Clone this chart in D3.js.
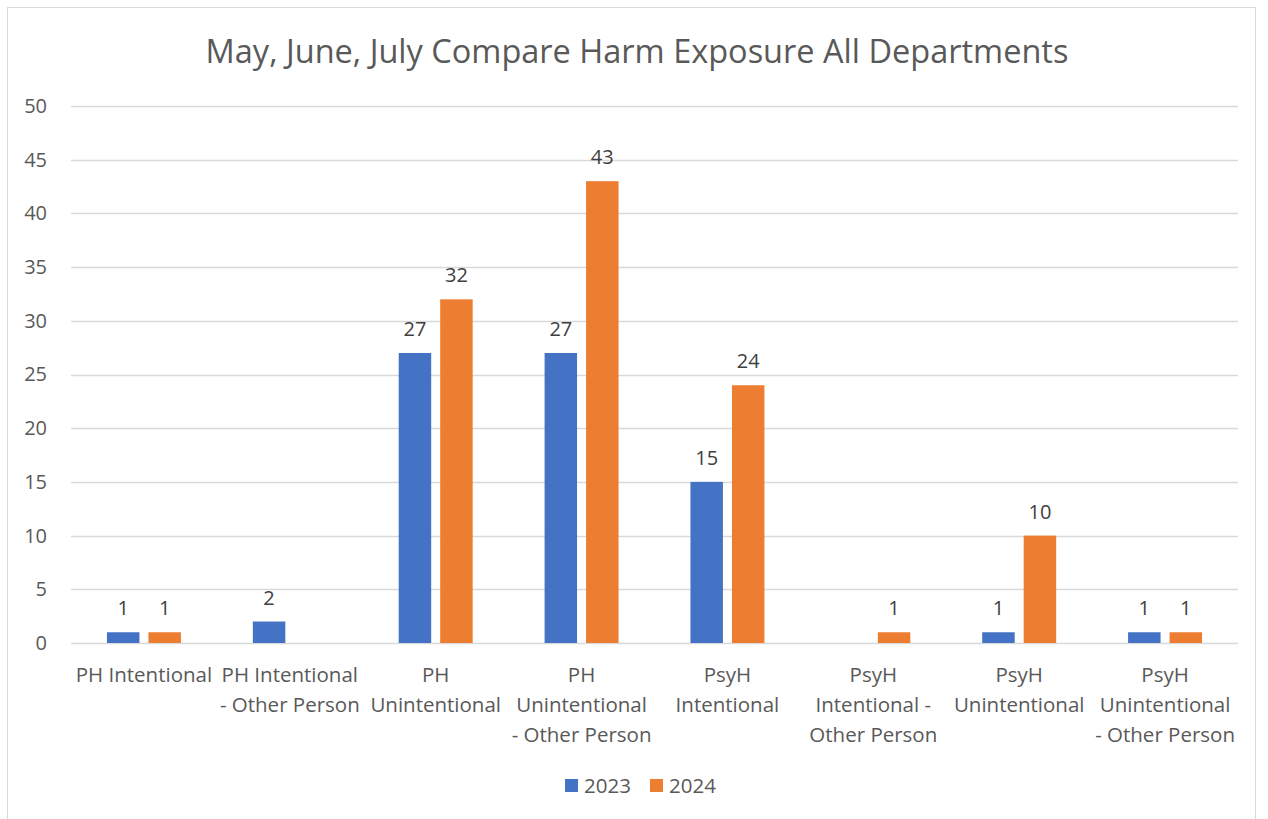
<!DOCTYPE html>
<html>
<head>
<meta charset="utf-8">
<script src="https://cdn.jsdelivr.net/npm/d3@7"></script>
<style>
  body { margin: 0; background: #fff; }
  text { font-family: "Open Sans", "Noto Sans", sans-serif; }
</style>
</head>
<body>
<div class="chart"></div>
<script>
// data
const categories = [
  "PH Intentional",
  "PH Intentional - Other Person",
  "PH Unintentional",
  "PH Unintentional - Other Person",
  "PsyH Intentional",
  "PsyH Intentional - Other Person",
  "PsyH Unintentional",
  "PsyH Unintentional - Other Person"
];
// how the axis labels wrap in the picture
const categoryLines = [
  ["PH Intentional"],
  ["PH Intentional", "- Other Person"],
  ["PH", "Unintentional"],
  ["PH", "Unintentional", "- Other Person"],
  ["PsyH", "Intentional"],
  ["PsyH", "Intentional -", "Other Person"],
  ["PsyH", "Unintentional"],
  ["PsyH", "Unintentional", "- Other Person"]
];
const seriesNames = ["2023", "2024"];
const values2023 = [1, 2, 27, 27, 15, null, 1, 1];
const values2024 = [1, null, 32, 43, 24, 1, 10, 1];
const yTicks = [0, 5, 10, 15, 20, 25, 30, 35, 40, 45, 50];
const colors = ["#4472C4", "#ED7D31"];
const title = "May, June, July Compare Harm Exposure All Departments";

const svgWidth = 1268;
const svgHeight = 819;
const margin = { top: 106, right: 30, bottom: 176, left: 71 };
const width = 1238 - margin.left;
const height = 643 - margin.top;

const svg = d3.select(".chart")
  .append("svg")
  .attr("width", svgWidth)
  .attr("height", svgHeight);

// chart frame
svg.append("rect")
  .attr("x", 7.5)
  .attr("y", 7.5)
  .attr("width", 1248)
  .attr("height", 830)
  .attr("fill", "#fff")
  .attr("stroke", "#d9d9d9")
  .attr("stroke-width", 1);

svg.append("text")
  .attr("x", 637)
  .attr("y", 63)
  .attr("text-anchor", "middle")
  .attr("font-size", "32.5px")
  .attr("fill", "#595959")
  .text(title);

const chartGroup = svg.append("g")
  .attr("transform", `translate(${margin.left}, ${margin.top})`);

const x0 = d3.scaleBand()
  .domain(categories)
  .range([0, width])
  .paddingInner(0.493)
  .paddingOuter(0.2465);

const x1 = d3.scaleBand()
  .domain(seriesNames)
  .range([0, x0.bandwidth()])
  .paddingInner(0.217);

const y = d3.scaleLinear()
  .domain([0, 50])
  .range([height, 0]);

// gridlines
chartGroup.append("g")
  .selectAll("line")
  .data(yTicks)
  .enter()
  .append("line")
  .attr("x1", 0)
  .attr("x2", width)
  .attr("y1", d => Math.round(y(d)) + 0.5)
  .attr("y2", d => Math.round(y(d)) + 0.5)
  .attr("stroke", "#d9d9d9")
  .attr("stroke-width", 1.3);

// y axis labels
const leftAxis = d3.axisLeft(y).tickValues(yTicks).tickSize(0).tickPadding(24);
chartGroup.append("g")
  .call(leftAxis)
  .call(g => g.select(".domain").remove())
  .selectAll("text")
  .attr("font-size", "20px")
  .attr("fill", "#595959")
  .attr("font-family", "'Open Sans', sans-serif");

const rows = categories.map((c, i) => ({
  cat: c,
  vals: [
    { key: "2023", value: values2023[i] },
    { key: "2024", value: values2024[i] }
  ]
}));

const groups = chartGroup.selectAll(".cat")
  .data(rows)
  .enter()
  .append("g")
  .attr("transform", d => `translate(${x0(d.cat)}, 0)`);

groups.selectAll("rect")
  .data(d => d.vals.filter(v => v.value !== null))
  .enter()
  .append("rect")
  .attr("x", d => x1(d.key))
  .attr("y", d => y(d.value))
  .attr("width", x1.bandwidth())
  .attr("height", d => height - y(d.value))
  .attr("fill", d => colors[seriesNames.indexOf(d.key)]);

groups.selectAll(".lbl")
  .data(d => d.vals.filter(v => v.value !== null))
  .enter()
  .append("text")
  .attr("class", "lbl")
  .attr("x", d => x1(d.key) + x1.bandwidth() / 2)
  .attr("y", d => y(d.value) - 17)
  .attr("text-anchor", "middle")
  .attr("font-size", "20px")
  .attr("fill", "#404040")
  .text(d => d.value);

// category labels
const catLabels = chartGroup.append("g")
  .attr("transform", `translate(0, ${height})`);

categories.forEach((c, i) => {
  const t = catLabels.append("text")
    .attr("x", x0(c) + x0.bandwidth() / 2)
    .attr("y", 39)
    .attr("text-anchor", "middle")
    .attr("font-size", "20.5px")
    .attr("fill", "#595959");
  categoryLines[i].forEach((line, j) => {
    t.append("tspan")
      .attr("x", x0(c) + x0.bandwidth() / 2)
      .attr("dy", j === 0 ? 0 : 30)
      .text(line);
  });
});

// legend
const legend = svg.append("g")
  .attr("transform", "translate(565, 779)");

seriesNames.forEach((s, i) => {
  const item = legend.append("g")
    .attr("transform", `translate(${i * 85}, 0)`);
  item.append("rect")
    .attr("width", 13)
    .attr("height", 13)
    .attr("fill", colors[i]);
  item.append("text")
    .attr("x", 19)
    .attr("y", 14)
    .attr("font-size", "20.5px")
    .attr("fill", "#595959")
    .text(s);
});
</script>
</body>
</html>
